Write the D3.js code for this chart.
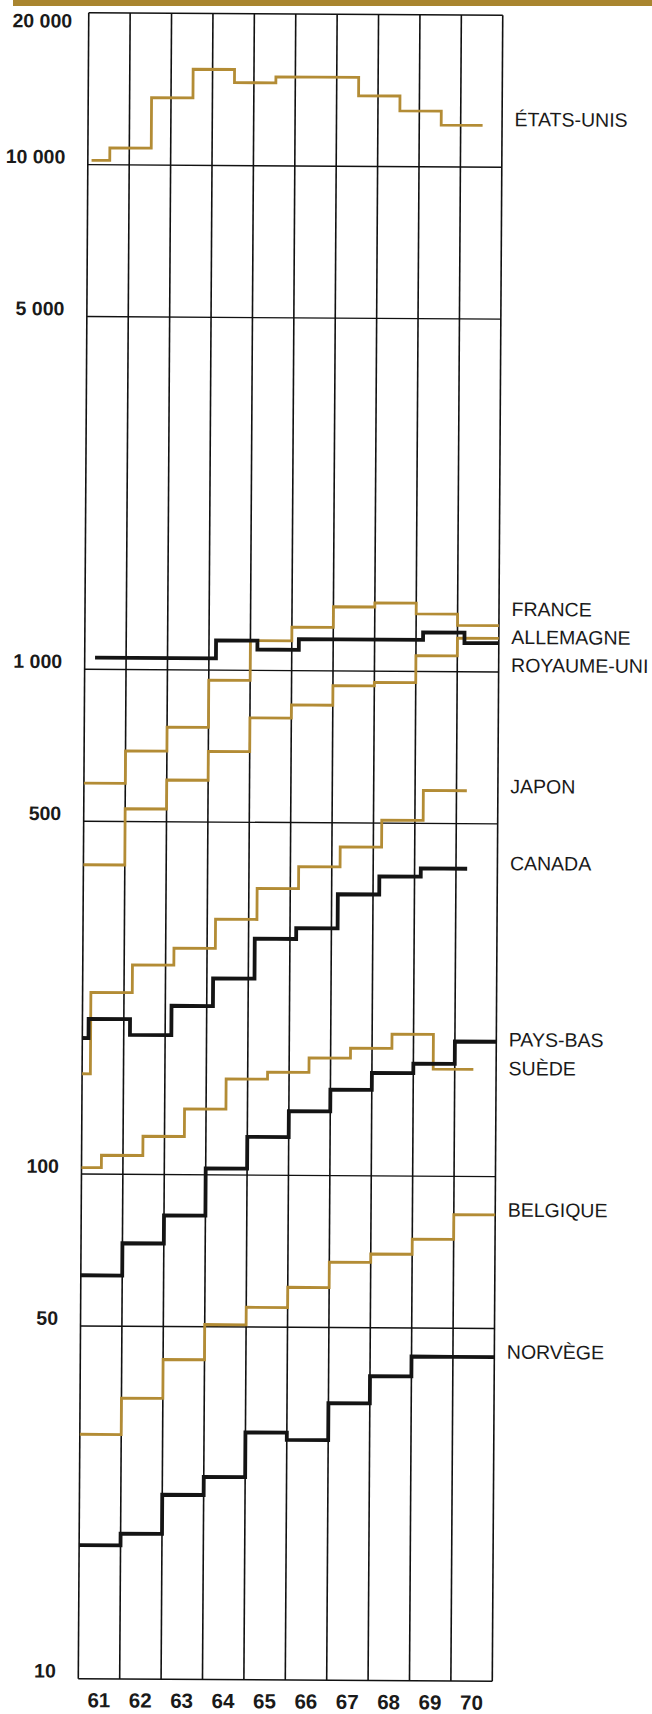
<!DOCTYPE html>
<html>
<head>
<meta charset="utf-8">
<script src="https://cdnjs.cloudflare.com/ajax/libs/d3/7.8.5/d3.min.js"></script>
<style>
  body { margin: 0; background: #fff; }
  svg { display: block; }
  text { font-family: "Liberation Sans", Arial, sans-serif; fill: #1a1a1a; }
</style>
</head>
<body>
<div id="chart"></div>
<script>
var width = 652, height = 1714;

// years (one column each) and the log ticks printed on the left
var years = [61, 62, 63, 64, 65, 66, 67, 68, 69, 70];
var tickValues = [20000, 10000, 5000, 1000, 500, 100, 50, 10];

// one value per year
var etatsUnis  = [10200, 10800, 13600, 15500, 14600, 15000, 15000, 13800, 12900, 12100];
var france     = [595, 690, 770, 955, 1145, 1220, 1340, 1365, 1300, 1235];
var allemagne  = [410, 530, 605, 690, 805, 855, 935, 950, 1075, 1165];
var royaumeUni = [1055, 1055, 1055, 1145, 1100, 1155, 1155, 1155, 1195, 1140];
var japon      = [158, 229, 260, 281, 321, 370, 409, 448, 507, 581];
var canada     = [186, 203, 189, 216, 245, 294, 309, 361, 392, 407];
var paysBas    = [63, 73, 83, 103, 119, 134, 148, 160, 167, 185];
var suede      = [103, 109, 119, 135, 155, 160, 171, 179, 191, 163];
var belgique   = [30.5, 36, 43, 50.5, 54.7, 60, 67.4, 70, 75, 84];
var norvege    = [18.4, 19.4, 23.2, 25.2, 30.9, 29.9, 35.4, 40.1, 43.9, 43.9];

var countries = ["ÉTATS-UNIS", "FRANCE", "ALLEMAGNE", "ROYAUME-UNI", "JAPON",
                 "CANADA", "PAYS-BAS", "SUÈDE", "BELGIQUE", "NORVÈGE"];
var inks = ["gold", "gold", "gold", "black", "gold", "black", "black", "gold", "gold", "black"];

// where each step line starts, where it first steps, where it stops (in years)
var stepStart = [61.09, 61, 61, 61.25, 61, 61, 61, 61, 61, 61];
var firstStep = [61.53, 62, 62, 62.17, 61.2, 61.15, 62, 61.48, 62, 62];
var stepEnd   = [70.53, 71, 71, 71, 70.25, 70.27, 71, 70.45, 71, 71];

// level at which each country name is printed
var labelLevels = [12460, 1333, 1173, 1032, 594, 418, 187, 164, 86, 45];

var seriesValues = [etatsUnis, france, allemagne, royaumeUni, japon,
                    canada, paysBas, suede, belgique, norvege];

var GOLD = "#b38c35", BLACK = "#141414";

var svg = d3.select("#chart").append("svg")
  .attr("width", width)
  .attr("height", height);

svg.append("rect").attr("width", width).attr("height", height).attr("fill", "#fff");

// gold rule at the top of the page
svg.append("rect")
  .attr("x", 13).attr("y", 0)
  .attr("width", width - 13).attr("height", 6)
  .attr("fill", "#a9852f");

// the printed page is scanned a little askew
var g = svg.append("g").attr("transform", "rotate(0.36, 290, 850)");

var x = d3.scaleLinear().domain([61, 71]).range([83.5, 497.5]);
var y = d3.scaleLog().domain([10, 20000]).range([1680, 14]);

var fmt = d3.formatLocale({ decimal: ",", thousands: " ", grouping: [3], currency: ["", ""] }).format(",d");

// vertical year rules
g.selectAll("line.v")
  .data(d3.range(61, 72))
  .enter().append("line")
  .attr("x1", function (d) { return x(d); })
  .attr("x2", function (d) { return x(d); })
  .attr("y1", y(20000))
  .attr("y2", y(10))
  .attr("stroke", "#111")
  .attr("stroke-width", 1.6);

// horizontal rules at the printed values
g.selectAll("line.h")
  .data(tickValues)
  .enter().append("line")
  .attr("x1", x(61))
  .attr("x2", x(71))
  .attr("y1", function (d) { return y(d); })
  .attr("y2", function (d) { return y(d); })
  .attr("stroke", "#111")
  .attr("stroke-width", 1.4);

// tick labels on the left
g.selectAll("text.tick")
  .data(tickValues)
  .enter().append("text")
  .attr("x", function (d) { return d === 20000 ? x(61) - 16.5 : x(61) - 22.5; })
  .attr("y", function (d) { return d === 20000 ? y(d) + 15 : y(d) - 1; })
  .attr("text-anchor", "end")
  .style("font-size", "19.5px")
  .style("font-weight", "bold")
  .text(function (d) { return fmt(d); });

// year labels along the bottom
g.selectAll("text.year")
  .data(years)
  .enter().append("text")
  .attr("x", function (d) { return x(d + 0.5); })
  .attr("y", y(10) + 28.5)
  .attr("text-anchor", "middle")
  .style("font-size", "20.5px")
  .style("font-weight", "bold")
  .text(function (d) { return d; });

// step lines
var line = d3.line()
  .x(function (d) { return x(d[0]); })
  .y(function (d) { return y(d[1]); })
  .curve(d3.curveStepAfter);

var order = d3.range(seriesValues.length).sort(function (a, b) {
  return (inks[a] === "black") - (inks[b] === "black");
});

order.forEach(function (i) {
  var vals = seriesValues[i];
  var breaks = [stepStart[i]];
  for (var k = 0; k < vals.length - 1; k++) breaks.push(firstStep[i] + k);
  breaks.push(stepEnd[i]);
  var pts = vals.map(function (v, j) { return [breaks[j], v]; });
  pts.push([breaks[vals.length], vals[vals.length - 1]]);
  g.append("path")
    .datum(pts)
    .attr("d", line)
    .attr("fill", "none")
    .attr("stroke", inks[i] === "gold" ? GOLD : BLACK)
    .attr("stroke-width", inks[i] === "gold" ? 2.8 : 3.8)
    .attr("stroke-linejoin", "miter");
});

// country names on the right
g.selectAll("text.country")
  .data(countries)
  .enter().append("text")
  .attr("x", x(71) + 12.5)
  .attr("y", function (d, i) { return y(labelLevels[i]); })
  .attr("dy", "0.36em")
  .style("font-size", "19.5px")
  .text(function (d) { return d; });
</script>
</body>
</html>
